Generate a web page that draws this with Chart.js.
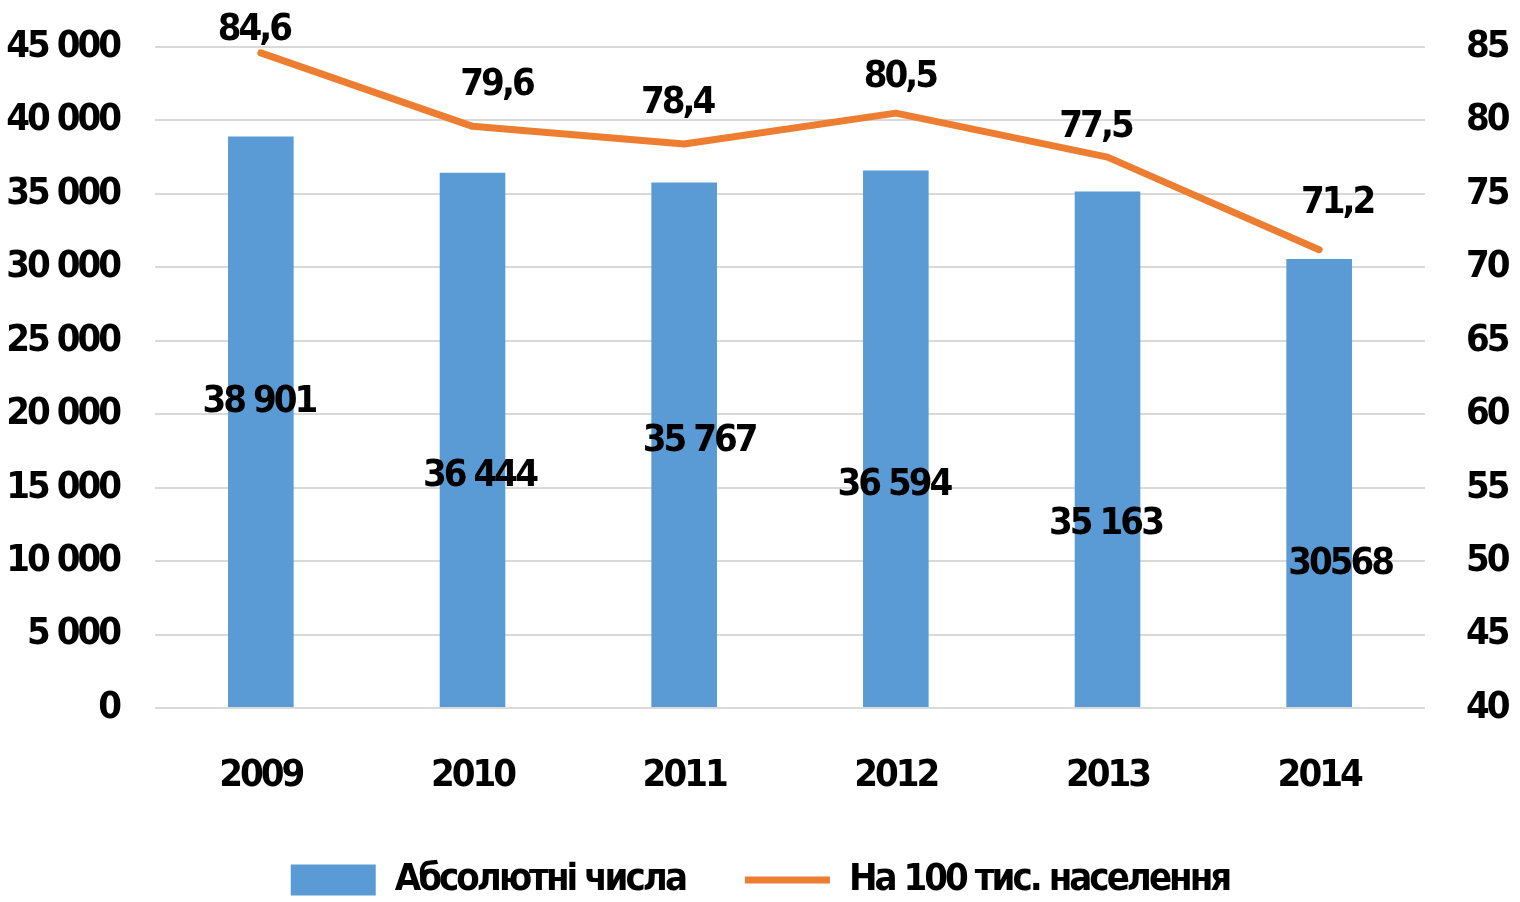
<!DOCTYPE html>
<html lang="uk">
<head>
<meta charset="UTF-8">
<title>Абсолютні числа / На 100 тис. населення</title>
<script src="https://cdn.jsdelivr.net/npm/chart.js"></script>
<style>
  html, body { margin: 0; padding: 0; background: #fff; }
  .wrap { width: 1520px; height: 902px; }
</style>
</head>
<body>
<div class="wrap"><canvas id="chart"></canvas></div>
<script>
// data
const years = ['2009', '2010', '2011', '2012', '2013', '2014'];
const absolute = [38901, 36444, 35767, 36594, 35163, 30568];
const per100k = [84.6, 79.6, 78.4, 80.5, 77.5, 71.2];
const absoluteText = ['38 901', '36 444', '35 767', '36 594', '35 163', '30568'];

const FONT = '"DejaVu Sans Condensed", "Liberation Sans Narrow", sans-serif';
const FSIZE = 38;
const TRACK = '-3px';
const BLUE = '#5B9BD5';
const ORANGE = '#ED7D31';

function spaced(v) {
    return String(v).replace(/\B(?=(\d{3})+(?!\d))/g, ' ');
}

// where the value labels sit (bar labels in left-axis units, px shift)
const barLabelPos = [
    { v: 20800, dx: -2 }, { v: 15800, dx: 7 }, { v: 18200, dx: 15 },
    { v: 15200, dx: -2 }, { v: 12500, dx: -2 }, { v: 9800, dx: 21 }
];
const lineLabelPos = [
    { dy: -23, dx: -7 }, { dy: -41, dx: 24 }, { dy: -41, dx: -7 },
    { dy: -36, dx: 4 }, { dy: -30, dx: -12 }, { dy: -47, dx: 18 }
];

// tighter letter spacing so the text looks condensed like the original
const tracking = {
    id: 'tracking',
    beforeLayout(chart) { chart.ctx.letterSpacing = TRACK; },
    beforeDraw(chart) { chart.ctx.letterSpacing = TRACK; }
};

const valueLabels = {
    id: 'valueLabels',
    afterDatasetsDraw(chart) {
        const ctx = chart.ctx;
        const yL = chart.scales.y;
        ctx.save();
        ctx.letterSpacing = TRACK;
        ctx.font = 'bold ' + FSIZE + 'px ' + FONT;
        ctx.fillStyle = '#000';
        ctx.textAlign = 'center';
        ctx.textBaseline = 'middle';
        chart.getDatasetMeta(1).data.forEach((bar, i) => {
            ctx.fillText(absoluteText[i], bar.x + barLabelPos[i].dx, yL.getPixelForValue(barLabelPos[i].v));
        });
        chart.getDatasetMeta(0).data.forEach((pt, i) => {
            ctx.fillText(per100k[i].toFixed(1).replace('.', ','), pt.x + lineLabelPos[i].dx, pt.y + lineLabelPos[i].dy);
        });
        ctx.restore();
    }
};

const tickFont = { family: FONT, size: FSIZE, weight: 'bold' };

function noVPad(s) {
    s.paddingTop = 0;
    s.paddingBottom = 0;
}

new Chart(document.getElementById('chart'), {
    data: {
        labels: years,
        datasets: [
            {
                type: 'line',
                label: 'На 100 тис. населення',
                data: per100k,
                yAxisID: 'y2',
                borderColor: ORANGE,
                backgroundColor: ORANGE,
                borderWidth: 7,
                borderCapStyle: 'round',
                borderJoinStyle: 'round',
                pointRadius: 0,
                pointStyle: 'line',
                tension: 0,
                order: 0
            },
            {
                type: 'bar',
                label: 'Абсолютні числа',
                data: absolute,
                yAxisID: 'y',
                backgroundColor: BLUE,
                pointStyle: 'rect',
                categoryPercentage: 1,
                barPercentage: 0.31,
                order: 1
            }
        ]
    },
    options: {
        responsive: true,
        maintainAspectRatio: false,
        animation: false,
        layout: { padding: { top: 47, bottom: -7, left: 0, right: 0 } },
        plugins: {
            tooltip: { enabled: false },
            legend: {
                position: 'bottom',
                reverse: true,
                labels: {
                    usePointStyle: true,
                    pointStyleWidth: 85,
                    boxHeight: 31,
                    padding: 60,
                    color: '#000',
                    font: tickFont
                }
            }
        },
        scales: {
            x: {
                grid: { display: false },
                border: { display: false },
                ticks: { color: '#000', padding: 37, font: tickFont },
                afterFit(s) { s.height = 93; }
            },
            y: {
                position: 'left',
                min: 0, max: 45000,
                ticks: { stepSize: 5000, color: '#000', padding: 36, font: tickFont, callback: v => spaced(v) },
                grid: { color: '#d9d9d9', lineWidth: 2, drawTicks: false },
                border: { display: false },
                afterFit(s) { s.width = 155; noVPad(s); }
            },
            y2: {
                position: 'right',
                min: 40, max: 85,
                ticks: { stepSize: 5, color: '#000', padding: 33, font: tickFont },
                grid: { display: false },
                border: { display: false },
                afterFit(s) { s.width = 95; noVPad(s); }
            }
        }
    },
    plugins: [tracking, valueLabels]
});
</script>
</body>
</html>
